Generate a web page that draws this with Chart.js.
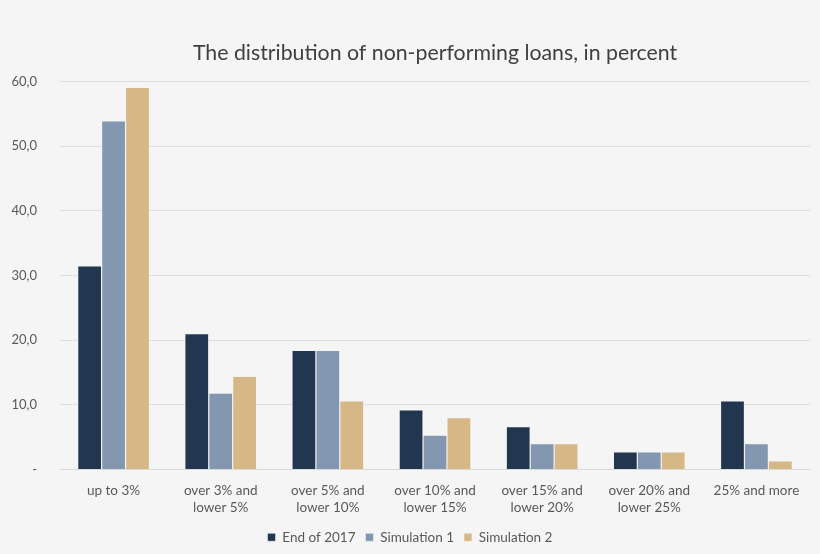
<!DOCTYPE html>
<html>
<head>
<meta charset="utf-8">
<script src="https://cdn.jsdelivr.net/npm/chart.js@4"></script>
<style>
html,body{margin:0;padding:0;background:#f5f5f5;}
#wrap{width:820px;height:554px;position:relative;}
</style>
</head>
<body>
<div id="wrap"><canvas id="c"></canvas></div>
<script>
const categories = [
  ["up to 3%"],
  ["over 3% and","lower 5%"],
  ["over 5% and","lower 10%"],
  ["over 10% and","lower 15%"],
  ["over 15% and","lower 20%"],
  ["over 20% and","lower 25%"],
  ["25% and more"]
];
const end2017 = [31.5, 21.0, 18.4, 9.2, 6.6, 2.7, 10.6];
const simulation1 = [53.9, 11.8, 18.4, 5.3, 4.0, 2.7, 4.0];
const simulation2 = [59.1, 14.4, 10.6, 8.0, 4.0, 2.7, 1.3];
const seriesNames = ["End of 2017", "Simulation 1", "Simulation 2"];
const titleText = "The distribution of non-performing loans, in percent";

const FONT = "Lato, 'Open Sans', sans-serif";
const bgPlugin = {
  id: 'bg',
  beforeDraw(chart){
    const ctx = chart.ctx;
    ctx.save();
    ctx.fillStyle = '#f5f5f5';
    ctx.fillRect(0,0,chart.width,chart.height);
    ctx.restore();
  },
  afterLayout(chart){
    if (chart.titleBlock) {
      chart.titleBlock.left = chart.chartArea.left;
      chart.titleBlock.right = chart.chartArea.right;
    }
  }
};

new Chart(document.getElementById('c'), {
  type: 'bar',
  data: {
    labels: categories,
    datasets: [
      {label: seriesNames[0], data: end2017, backgroundColor: '#22364f', borderColor: '#f0f0f0', borderWidth: 0.6},
      {label: seriesNames[1], data: simulation1, backgroundColor: '#8497b0', borderColor: '#f0f0f0', borderWidth: 0.6},
      {label: seriesNames[2], data: simulation2, backgroundColor: '#d6b887', borderColor: '#f0f0f0', borderWidth: 0.6}
    ]
  },
  options: {
    responsive: true,
    maintainAspectRatio: false,
    animation: false,
    layout: {padding: {left: 10, right: 10, top: 40, bottom: 0}},
    datasets: {bar: {categoryPercentage: 0.67, barPercentage: 1.0}},
    plugins: {
      title: {
        display: true, text: titleText, color: '#404040',
        font: {family: FONT, size: 21.3, weight: 'normal'},
        padding: {top: 0, bottom: 16}
      },
      legend: {
        position: 'bottom',
        labels: {
          color: '#595959', boxWidth: 8, boxHeight: 8, padding: 10,
          font: {family: FONT, size: 13.5}
        }
      },
      tooltip: {enabled: false}
    },
    scales: {
      x: {
        grid: {display: false},
        border: {color: '#d9d9d9'},
        ticks: {color: '#595959', font: {family: FONT, size: 13.5, lineHeight: 1.3}, maxRotation: 0, autoSkip: false, padding: 4}
      },
      y: {
        min: 0, max: 60,
        grid: {color: '#dedede', drawTicks: false},
        border: {display: false},
        afterFit(scale){ scale.width = 50; },
        ticks: {
          stepSize: 10, color: '#595959', padding: 23,
          font: {family: FONT, size: 13},
          callback: v => v === 0 ? '-' : v.toFixed(1).replace('.', ',')
        }
      }
    }
  },
  plugins: [bgPlugin]
});
</script>
</body>
</html>
